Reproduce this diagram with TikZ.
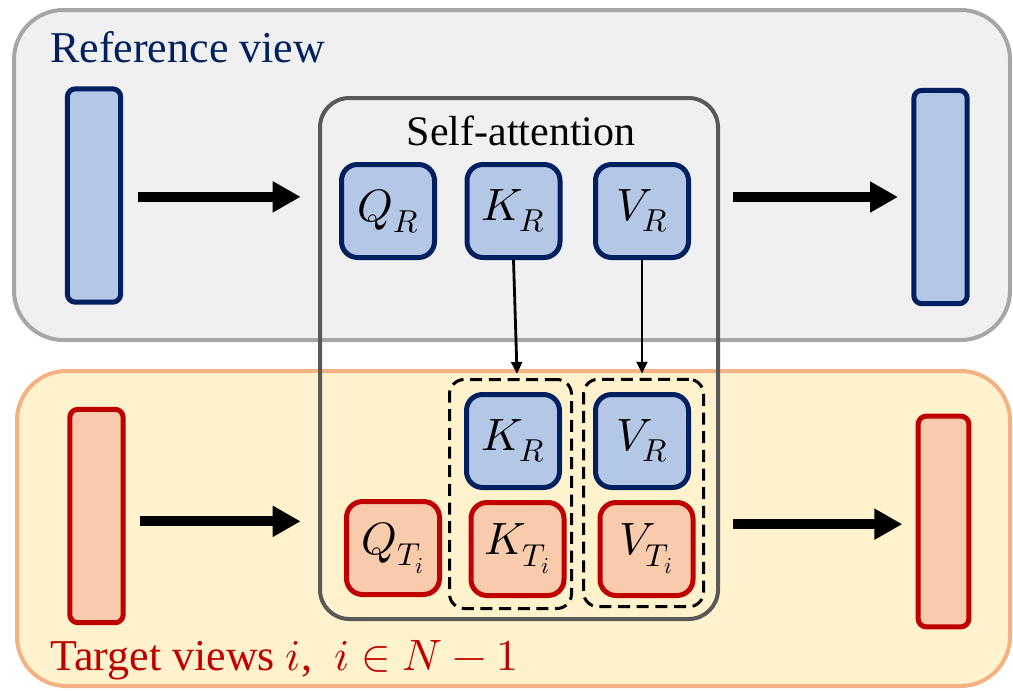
\documentclass[tikz,border=0pt]{standalone}
\usepackage{fontspec}
\usepackage{unicode-math}
\setmainfont{Liberation Serif}
\setmathfont{Latin Modern Math}
\usetikzlibrary{arrows.meta}
\definecolor{navy}{HTML}{002060}
\definecolor{lblue}{HTML}{B4C7E7}
\definecolor{dred}{HTML}{C00000}
\definecolor{salmon}{HTML}{F8CBAD}
\definecolor{lyellow}{HTML}{FFF2CC}
\definecolor{orangeline}{HTML}{F4B183}
\definecolor{greyfill}{HTML}{F0F0F0}
\definecolor{greyline}{HTML}{A6A6A6}
\definecolor{saline}{HTML}{595959}
\tikzset{
  panel/.style={line width=3pt, rounded corners=37pt, inner sep=0pt},
  smallbox/.style={line width=3.75pt, rounded corners=12pt, minimum width=69.75pt, minimum height=69.75pt, inner sep=0pt, font=\fontsize{34}{40}\selectfont},
  bluebox/.style={smallbox, draw=navy, fill=lblue},
  redbox/.style={smallbox, draw=dred, fill=salmon},
  bar/.style={line width=3.75pt, rounded corners=6pt, minimum width=40pt, minimum height=160pt, inner sep=0pt},
  bluebar/.style={bar, draw=navy, fill=lblue},
  redbar/.style={bar, draw=dred, fill=salmon},
  dashbox/.style={draw=black, line width=2.25pt, dash pattern=on 9pt off 5pt, rounded corners=11pt, inner sep=0pt},
  bigarrow/.style={line width=7.5pt, -{Triangle[length=21pt,width=22pt]}},
  thinarrow/.style={line width=2.1pt, -{Triangle[length=9pt,width=8pt]}},
  title/.style={inner sep=0pt, font=\fontsize{33}{40}\selectfont}
}
\begin{document}
\begin{tikzpicture}[x=0.75pt,y=-0.75pt]
\useasboundingbox (0,0) rectangle (1013,690);
% panels
\node[panel, draw=greyline, fill=greyfill, minimum width=747pt, minimum height=247.5pt] (refpanel) at (512,175) {};
\node[panel, draw=orangeline, fill=lyellow, minimum width=744.75pt, minimum height=236.25pt] (tgtpanel) at (513.5,528.5) {};
% self-attention box
\node[draw=saline, line width=3pt, rounded corners=22pt, minimum width=298.5pt, minimum height=390.75pt, inner sep=0pt] (sa) at (519,358.5) {};
% dashed groups
\node[dashbox, minimum width=91.5pt, minimum height=171.75pt] (d1) at (510.5,494) {};
\node[dashbox, minimum width=90pt, minimum height=170.6pt] (d2) at (643.5,493) {};
% texts
\node[title, text=navy, anchor=base west] (reftxt) at (50,62) {Reference view};
\node[title, font=\fontsize{31.5}{38}\selectfont, anchor=base] (satxt) at (521,145) {Self-attention};
\node[title, text=dred, anchor=base west] (tgttxt) at (50,670) {Target views $i$,~ $i\in N-1$};
% bars
\node[bluebar] (lb) at (94,195.5) {};
\node[bluebar] (rb) at (940.5,197) {};
\node[redbar] (lr) at (96.5,516) {};
\node[redbar, minimum width=38pt, minimum height=158pt] (rr) at (943.5,521.5) {};
% small boxes top
\node[bluebox] (qR) at (388,211) {$Q_R$};
\node[bluebox] (kR) at (513.5,211) {$K_R$};
\node[bluebox] (vR) at (642,211) {$V_R$};
% small boxes bottom
\node[bluebox] (kR2) at (513,441) {$K_R$};
\node[bluebox] (vR2) at (642,441) {$V_R$};
\node[redbox] (qT) at (393,548) {$Q_{T_i}$};
\node[redbox] (kT) at (517.5,549) {$K_{T_i}$};
\node[redbox] (vT) at (646.5,549) {$V_{T_i}$};
% arrows
\draw[bigarrow, shorten <=11pt, shorten >=13pt] ([yshift=-1pt]lb.east) -- ([yshift=-1pt]lb.east -| sa.west);
\draw[bigarrow, shorten <=10pt, shorten >=10pt] (rb.west -| sa.east) -- (rb.west);
\draw[bigarrow, shorten <=11pt, shorten >=13pt] ([yshift=-4pt]lr.east) -- ([yshift=-4pt]lr.east -| sa.west);
\draw[bigarrow, shorten <=10pt, shorten >=10pt] ([yshift=-2pt]rr.west -| sa.east) -- ([yshift=-2pt]rr.west);
\draw[thinarrow] (kR.south) -- ([xshift=4.9pt,yshift=3pt]d1.north);
\draw[thinarrow] (vR.south) -- ([yshift=3pt]vR.south |- d2.north);
\end{tikzpicture}
\end{document}
